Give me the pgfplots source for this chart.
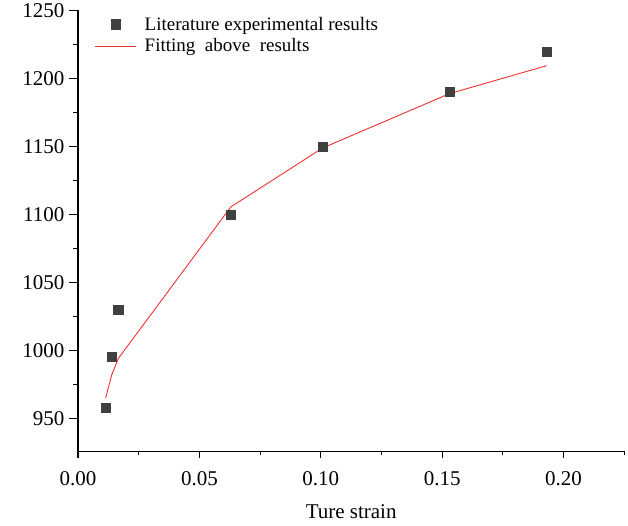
\documentclass[border=0pt]{standalone}
\usepackage{pgfplots}
\pgfplotsset{compat=1.18}
\usepackage{fontspec}
\setmainfont{Liberation Serif}
\definecolor{fitred}{RGB}{238,50,50}
\definecolor{markgray}{RGB}{64,64,64}
\pgfplotsset{
  mymarkleg/.style={legend image code/.code={\draw[##1] plot coordinates {(20.5pt,0pt)}; \path (47pt,0pt);}},
  mylineleg/.style={legend image code/.code={\draw[##1] (0pt,0pt) -- (41pt,0pt); \path (47pt,0pt);}},
}
\begin{document}
\begin{tikzpicture}
\begin{axis}[
  scale only axis,
  width=546.3pt, height=441pt,
  xmin=0, xmax=0.225, ymin=925.4, ymax=1250,
  axis line style={draw=none},
  clip=false,
  xtick pos=bottom, ytick pos=left,
  xtick={0,0.05,0.10,0.15,0.20},
  ytick={950,1000,1050,1100,1150,1200,1250},
  tick align=outside,
  major tick length=7pt,
  every tick/.style={draw=none},
  /pgf/number format/assume math mode=true,
  xticklabel style={/pgf/number format/fixed, /pgf/number format/fixed zerofill, /pgf/number format/precision=2, font=\fontsize{21}{24}\selectfont, yshift=-9pt},
  yticklabel style={/pgf/number format/1000 sep={}, font=\fontsize{21}{24}\selectfont, xshift=-3pt},
  scaled x ticks=false,
  xlabel={Ture strain},
  xlabel style={font=\fontsize{21}{24}\selectfont, yshift=-12pt},
  legend style={draw=none, fill=none, at={(rel axis cs:0.0286,0.993)}, anchor=north west,
    font=\fontsize{19}{22}\selectfont, row sep=3pt, inner sep=1pt},
  legend cell align=left,
]
\addplot[only marks, mark=square*, mark size=4.7pt, color=markgray, mymarkleg]
  coordinates {
  (0.0114,958) (0.0139,995.4) (0.0166,1030) (0.0629,1100)
  (0.1008,1150) (0.1531,1190.4) (0.1930,1219.6)
  };
\addlegendentry{Literature experimental results}
\addplot[no marks, color=fitred, line width=0.9pt, mylineleg]
  coordinates {
  (0.0114,965) (0.0139,982) (0.0166,994) (0.0629,1105.5)
  (0.1008,1149) (0.1531,1189) (0.1930,1209.5)
  };
\addlegendentry{Fitting~~above~~results}
\draw[line width=1.1pt, black, line cap=rect] (rel axis cs:0,1) -- (rel axis cs:0,0) -- (rel axis cs:1,0);
\draw[line width=1.3pt, black]
  (axis cs:0,925.4) -- ++(0pt,-6.5pt)
  (axis cs:0.05,925.4) -- ++(0pt,-6.5pt)
  (axis cs:0.10,925.4) -- ++(0pt,-6.5pt)
  (axis cs:0.15,925.4) -- ++(0pt,-6.5pt)
  (axis cs:0.20,925.4) -- ++(0pt,-6.5pt)
  (axis cs:0,950) -- ++(-9pt,0pt)
  (axis cs:0,1000) -- ++(-9pt,0pt)
  (axis cs:0,1050) -- ++(-9pt,0pt)
  (axis cs:0,1100) -- ++(-9pt,0pt)
  (axis cs:0,1150) -- ++(-9pt,0pt)
  (axis cs:0,1200) -- ++(-9pt,0pt)
  (axis cs:0,1250) -- ++(-9pt,0pt);
\draw[line width=1.1pt, black]
  (axis cs:0.025,925.4) -- ++(0pt,-3.5pt)
  (axis cs:0.075,925.4) -- ++(0pt,-3.5pt)
  (axis cs:0.125,925.4) -- ++(0pt,-3.5pt)
  (axis cs:0.175,925.4) -- ++(0pt,-3.5pt)
  (axis cs:0.225,925.4) -- ++(0pt,-3.5pt)
  (axis cs:0,975) -- ++(-5pt,0pt)
  (axis cs:0,1025) -- ++(-5pt,0pt)
  (axis cs:0,1075) -- ++(-5pt,0pt)
  (axis cs:0,1125) -- ++(-5pt,0pt)
  (axis cs:0,1175) -- ++(-5pt,0pt)
  (axis cs:0,1225) -- ++(-5pt,0pt);
\end{axis}
\path (current axis.south west) ++(-78pt,-74.3pt) rectangle ++(628pt,526pt);
\end{tikzpicture}
\end{document}
